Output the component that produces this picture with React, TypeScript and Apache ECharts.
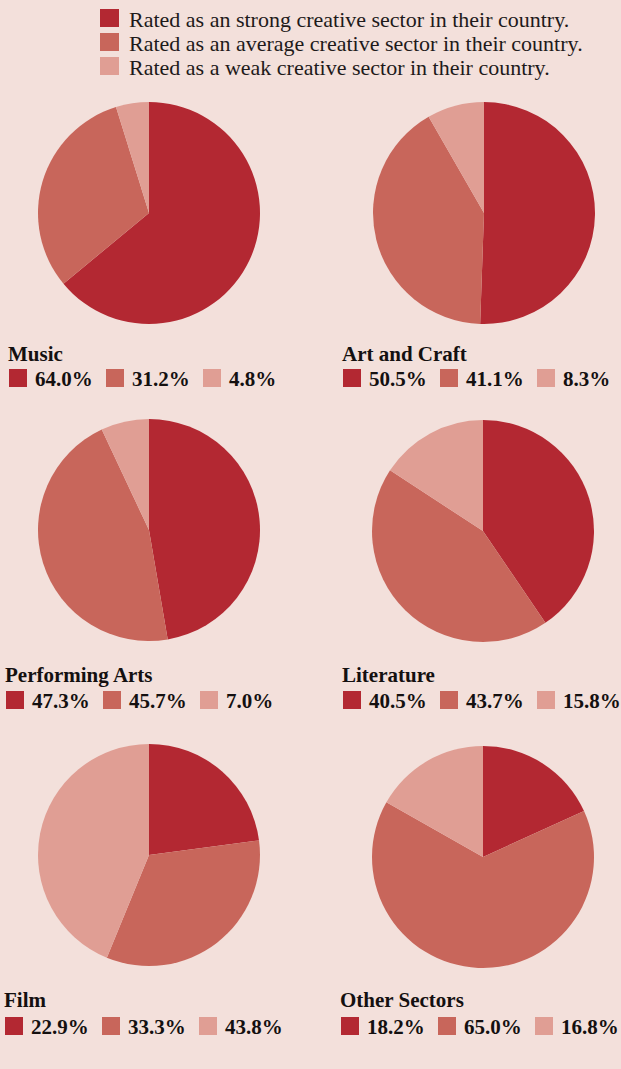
import React, { useEffect, useRef } from "react";
import * as echarts from "echarts";

const sectors = ["Music", "Art and Craft", "Performing Arts", "Literature", "Film", "Other Sectors"];
const strong = [64.0, 50.5, 47.3, 40.5, 22.9, 18.2];
const average = [31.2, 41.1, 45.7, 43.7, 33.3, 65.0];
const weak = [4.8, 8.3, 7.0, 15.8, 43.8, 16.8];
const legendLabels = [
  "Rated as an strong creative sector in their country.",
  "Rated as an average creative sector in their country.",
  "Rated as a weak creative sector in their country.",
];

const COLORS = ["#b32832", "#c8665b", "#e09e94"];
const BG = "#f3e0db";
const FONT = "'Liberation Serif', 'Times New Roman', serif";

// layout (pixel positions)
const pieCenters = [
  [149, 213], [484, 213],
  [149, 530], [483, 531],
  [149, 855], [483, 857],
];
const RADIUS = 111;
const panelX = [9, 343, 6, 343, 5, 341];
const titleY = [354, 354, 675, 675, 1000, 1000];
const squareY = [369, 369, 691, 691, 1017, 1017];

export default function App() {
  const ref = useRef<HTMLDivElement>(null);
  useEffect(() => {
    document.body.style.margin = "0";
    document.body.style.background = BG;
    const chart = echarts.init(ref.current!, null, { renderer: "svg" });
    const series: any[] = sectors.map((name, i) => ({
      type: "pie",
      name,
      center: pieCenters[i],
      radius: RADIUS,
      startAngle: 90,
      clockwise: true,
      label: { show: false },
      labelLine: { show: false },
      emphasis: { disabled: true },
      silent: true,
      itemStyle: { borderWidth: 0 },
      data: [
        { name: legendLabels[0], value: strong[i], itemStyle: { color: COLORS[0] } },
        { name: legendLabels[1], value: average[i], itemStyle: { color: COLORS[1] } },
        { name: legendLabels[2], value: weak[i], itemStyle: { color: COLORS[2] } },
      ],
    }));

    const graphics: any[] = [];
    legendLabels.forEach((t, k) => {
      graphics.push({
        type: "rect",
        shape: { x: 100, y: 9 + k * 24, width: 19, height: 18 },
        style: { fill: COLORS[k] },
      });
      graphics.push({
        type: "text",
        x: 129,
        y: 19 + k * 24,
        style: {
          text: t,
          font: `22px ${FONT}`,
          fill: "#1e1a1a",
          align: "left",
          verticalAlign: "middle",
          textAlign: "left",
          textVerticalAlign: "middle",
        },
      });
    });
    sectors.forEach((name, i) => {
      const x0 = panelX[i];
      graphics.push({
        type: "text",
        x: x0 - 1,
        y: titleY[i],
        style: {
          text: name,
          font: `bold 21px ${FONT}`,
          fill: "#141010",
          align: "left",
          verticalAlign: "middle",
          textAlign: "left",
          textVerticalAlign: "middle",
        },
      });
      const vals = [strong[i], average[i], weak[i]];
      vals.forEach((v, k) => {
        const sx = x0 + k * 97;
        graphics.push({
          type: "rect",
          shape: { x: sx, y: squareY[i], width: 18, height: 18 },
          style: { fill: COLORS[k] },
        });
        graphics.push({
          type: "text",
          x: sx + 26,
          y: squareY[i] + 10,
          style: {
            text: v.toFixed(1) + "%",
            font: `bold 21px ${FONT}`,
            fill: "#141010",
            align: "left",
            verticalAlign: "middle",
            textAlign: "left",
            textVerticalAlign: "middle",
          },
        });
      });
    });

    chart.setOption({
      animation: false,
      backgroundColor: BG,
      series,
      graphic: { elements: graphics },
    });
    return () => chart.dispose();
  }, []);
  return <div ref={ref} style={{ width: 621, height: 1069, background: BG }} />;
}
